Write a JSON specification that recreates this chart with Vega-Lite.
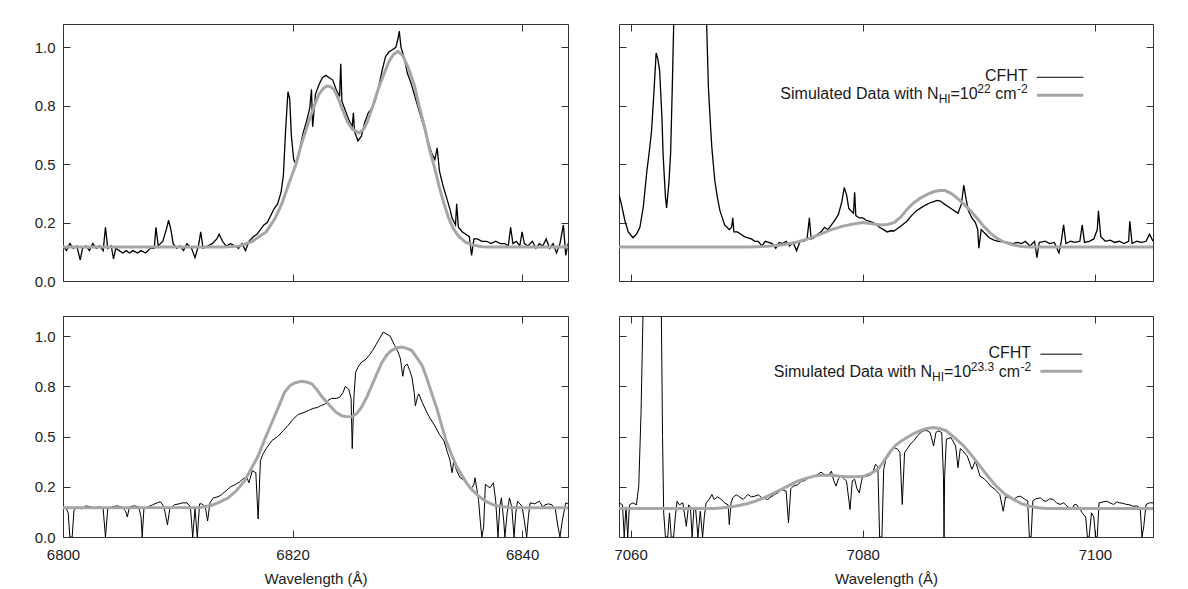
{
  "$schema": "https://vega.github.io/schema/vega-lite/v6.json",
  "background": "white",
  "padding": {"left": 33, "top": 23, "right": 30, "bottom": 5},
  "config": {
    "font": "Liberation Sans",
    "view": {"stroke": "#333333", "strokeWidth": 1},
    "axis": {"domain": false, "grid": false, "tickColor": "#333333", "tickSize": -7, "tickWidth": 1,
      "labelFont": "Liberation Sans", "labelFontSize": 15, "labelColor": "#222222", "labelFlush": false,
      "titleFont": "Liberation Sans", "titleFontSize": 15, "titleFontWeight": "normal", "titleColor": "#222222"},
    "axisLeft": {"labelPadding": 15},
    "axisBottom": {"labelPadding": 17, "titlePadding": 9},
    "text": {"font": "Liberation Sans", "color": "#1a1a1a"}
  },
  "datasets": {
    "tl_cfht": [
      {"wl":6800.0,"flux":0.15},{"wl":6800.3,"flux":0.13},{"wl":6800.6,"flux":0.16},{"wl":6800.9,"flux":0.14},{"wl":6801.2,"flux":0.15},{"wl":6801.5,"flux":0.09},{"wl":6801.7,"flux":0.14},{"wl":6802.0,"flux":0.15},{"wl":6802.3,"flux":0.13},{"wl":6802.6,"flux":0.16},{"wl":6802.9,"flux":0.14},{"wl":6803.2,"flux":0.15},{"wl":6803.5,"flux":0.13},{"wl":6803.7,"flux":0.23},{"wl":6803.9,"flux":0.14},{"wl":6804.2,"flux":0.15},{"wl":6804.4,"flux":0.095},{"wl":6804.6,"flux":0.14},{"wl":6804.9,"flux":0.13},{"wl":6805.2,"flux":0.12},{"wl":6805.5,"flux":0.13},{"wl":6805.8,"flux":0.12},{"wl":6806.1,"flux":0.13},{"wl":6806.5,"flux":0.12},{"wl":6806.8,"flux":0.13},{"wl":6807.2,"flux":0.12},{"wl":6807.6,"flux":0.14},{"wl":6807.95,"flux":0.14},{"wl":6808.1,"flux":0.23},{"wl":6808.3,"flux":0.15},{"wl":6808.7,"flux":0.17},{"wl":6809.0,"flux":0.22},{"wl":6809.2,"flux":0.26},{"wl":6809.4,"flux":0.22},{"wl":6809.6,"flux":0.16},{"wl":6809.9,"flux":0.14},{"wl":6810.2,"flux":0.15},{"wl":6810.5,"flux":0.13},{"wl":6810.8,"flux":0.16},{"wl":6811.2,"flux":0.14},{"wl":6811.5,"flux":0.1},{"wl":6811.8,"flux":0.15},{"wl":6812.0,"flux":0.21},{"wl":6812.2,"flux":0.14},{"wl":6812.6,"flux":0.15},{"wl":6813.0,"flux":0.16},{"wl":6813.4,"flux":0.18},{"wl":6813.6,"flux":0.2},{"wl":6813.9,"flux":0.17},{"wl":6814.2,"flux":0.15},{"wl":6814.6,"flux":0.16},{"wl":6815.0,"flux":0.15},{"wl":6815.3,"flux":0.14},{"wl":6815.6,"flux":0.16},{"wl":6815.9,"flux":0.13},{"wl":6816.2,"flux":0.17},{"wl":6816.6,"flux":0.19},{"wl":6816.9,"flux":0.2},{"wl":6817.2,"flux":0.22},{"wl":6817.5,"flux":0.24},{"wl":6817.8,"flux":0.25},{"wl":6818.1,"flux":0.28},{"wl":6818.4,"flux":0.31},{"wl":6818.7,"flux":0.33},{"wl":6819.0,"flux":0.38},{"wl":6819.2,"flux":0.45},{"wl":6819.4,"flux":0.65},{"wl":6819.6,"flux":0.81},{"wl":6819.75,"flux":0.78},{"wl":6819.9,"flux":0.62},{"wl":6820.1,"flux":0.52},{"wl":6820.3,"flux":0.5},{"wl":6820.6,"flux":0.56},{"wl":6820.9,"flux":0.63},{"wl":6821.2,"flux":0.68},{"wl":6821.5,"flux":0.74},{"wl":6821.65,"flux":0.82},{"wl":6821.75,"flux":0.66},{"wl":6822.0,"flux":0.8},{"wl":6822.3,"flux":0.84},{"wl":6822.6,"flux":0.87},{"wl":6822.9,"flux":0.88},{"wl":6823.2,"flux":0.87},{"wl":6823.5,"flux":0.86},{"wl":6823.8,"flux":0.82},{"wl":6824.1,"flux":0.79},{"wl":6824.2,"flux":0.93},{"wl":6824.3,"flux":0.77},{"wl":6824.6,"flux":0.73},{"wl":6824.9,"flux":0.69},{"wl":6825.2,"flux":0.66},{"wl":6825.3,"flux":0.72},{"wl":6825.4,"flux":0.64},{"wl":6825.7,"flux":0.6},{"wl":6826.0,"flux":0.62},{"wl":6826.3,"flux":0.68},{"wl":6826.6,"flux":0.72},{"wl":6826.9,"flux":0.74},{"wl":6827.2,"flux":0.77},{"wl":6827.5,"flux":0.83},{"wl":6827.8,"flux":0.9},{"wl":6828.1,"flux":0.96},{"wl":6828.4,"flux":0.98},{"wl":6828.7,"flux":0.99},{"wl":6829.0,"flux":1.0},{"wl":6829.2,"flux":1.04},{"wl":6829.3,"flux":1.07},{"wl":6829.45,"flux":1.0},{"wl":6829.7,"flux":0.96},{"wl":6830.0,"flux":0.89},{"wl":6830.3,"flux":0.85},{"wl":6830.6,"flux":0.8},{"wl":6830.9,"flux":0.75},{"wl":6831.2,"flux":0.7},{"wl":6831.5,"flux":0.65},{"wl":6831.8,"flux":0.6},{"wl":6832.1,"flux":0.55},{"wl":6832.4,"flux":0.52},{"wl":6832.6,"flux":0.57},{"wl":6832.8,"flux":0.47},{"wl":6833.1,"flux":0.41},{"wl":6833.4,"flux":0.36},{"wl":6833.7,"flux":0.31},{"wl":6833.9,"flux":0.27},{"wl":6834.2,"flux":0.24},{"wl":6834.3,"flux":0.33},{"wl":6834.45,"flux":0.23},{"wl":6834.8,"flux":0.21},{"wl":6835.1,"flux":0.2},{"wl":6835.4,"flux":0.19},{"wl":6835.6,"flux":0.11},{"wl":6835.8,"flux":0.18},{"wl":6836.1,"flux":0.18},{"wl":6836.5,"flux":0.17},{"wl":6836.9,"flux":0.17},{"wl":6837.3,"flux":0.16},{"wl":6837.7,"flux":0.17},{"wl":6838.1,"flux":0.16},{"wl":6838.5,"flux":0.16},{"wl":6838.8,"flux":0.15},{"wl":6839.0,"flux":0.23},{"wl":6839.2,"flux":0.16},{"wl":6839.5,"flux":0.17},{"wl":6839.8,"flux":0.15},{"wl":6840.0,"flux":0.21},{"wl":6840.2,"flux":0.16},{"wl":6840.5,"flux":0.15},{"wl":6840.9,"flux":0.17},{"wl":6841.2,"flux":0.14},{"wl":6841.5,"flux":0.16},{"wl":6841.8,"flux":0.15},{"wl":6842.1,"flux":0.18},{"wl":6842.4,"flux":0.14},{"wl":6842.7,"flux":0.16},{"wl":6843.0,"flux":0.12},{"wl":6843.3,"flux":0.16},{"wl":6843.6,"flux":0.24},{"wl":6843.8,"flux":0.11},{"wl":6844.0,"flux":0.16}
    ],
    "tl_sim": [
      {"wl":6800,"flux":0.145},{"wl":6814,"flux":0.145},{"wl":6815.4,"flux":0.15},{"wl":6816.5,"flux":0.17},{"wl":6817.7,"flux":0.21},{"wl":6818.5,"flux":0.27},{"wl":6819.1,"flux":0.335},{"wl":6819.7,"flux":0.42},{"wl":6820.3,"flux":0.5},{"wl":6820.8,"flux":0.59},{"wl":6821.4,"flux":0.68},{"wl":6821.9,"flux":0.75},{"wl":6822.3,"flux":0.8},{"wl":6822.7,"flux":0.825},{"wl":6823.0,"flux":0.835},{"wl":6823.3,"flux":0.832},{"wl":6823.6,"flux":0.82},{"wl":6824.0,"flux":0.78},{"wl":6824.3,"flux":0.74},{"wl":6824.8,"flux":0.68},{"wl":6825.2,"flux":0.65},{"wl":6825.8,"flux":0.634},{"wl":6826.2,"flux":0.65},{"wl":6826.5,"flux":0.68},{"wl":6827.0,"flux":0.75},{"wl":6827.5,"flux":0.826},{"wl":6828.0,"flux":0.89},{"wl":6828.4,"flux":0.94},{"wl":6828.8,"flux":0.97},{"wl":6829.2,"flux":0.983},{"wl":6829.6,"flux":0.965},{"wl":6830.1,"flux":0.91},{"wl":6830.6,"flux":0.84},{"wl":6831.0,"flux":0.755},{"wl":6831.5,"flux":0.66},{"wl":6831.9,"flux":0.57},{"wl":6832.4,"flux":0.48},{"wl":6832.8,"flux":0.4},{"wl":6833.2,"flux":0.33},{"wl":6833.6,"flux":0.27},{"wl":6834.0,"flux":0.225},{"wl":6834.5,"flux":0.19},{"wl":6835.1,"flux":0.165},{"wl":6835.7,"flux":0.154},{"wl":6836.5,"flux":0.147},{"wl":6837.1,"flux":0.145},{"wl":6844,"flux":0.145}
    ],
    "tr_cfht": [
      {"wl":7059.0,"flux":0.37},{"wl":7059.2,"flux":0.33},{"wl":7059.5,"flux":0.26},{"wl":7059.8,"flux":0.21},{"wl":7060.2,"flux":0.185},{"wl":7060.5,"flux":0.2},{"wl":7060.8,"flux":0.23},{"wl":7061.1,"flux":0.32},{"wl":7061.4,"flux":0.47},{"wl":7061.6,"flux":0.55},{"wl":7061.8,"flux":0.64},{"wl":7062.0,"flux":0.8},{"wl":7062.2,"flux":0.976},{"wl":7062.35,"flux":0.95},{"wl":7062.5,"flux":0.9},{"wl":7062.7,"flux":0.7},{"wl":7062.8,"flux":0.54},{"wl":7063.0,"flux":0.36},{"wl":7063.1,"flux":0.313},{"wl":7063.3,"flux":0.42},{"wl":7063.45,"flux":0.55},{"wl":7063.6,"flux":0.85},{"wl":7063.8,"flux":1.3},{"wl":7064.3,"flux":2.2},{"wl":7065.0,"flux":2.6},{"wl":7065.8,"flux":2.2},{"wl":7066.3,"flux":1.5},{"wl":7066.55,"flux":1.1},{"wl":7066.7,"flux":0.83},{"wl":7066.9,"flux":0.65},{"wl":7067.0,"flux":0.57},{"wl":7067.25,"flux":0.43},{"wl":7067.5,"flux":0.35},{"wl":7067.7,"flux":0.3},{"wl":7067.9,"flux":0.27},{"wl":7068.1,"flux":0.24},{"wl":7068.3,"flux":0.23},{"wl":7068.5,"flux":0.22},{"wl":7068.7,"flux":0.23},{"wl":7068.8,"flux":0.27},{"wl":7068.9,"flux":0.21},{"wl":7069.2,"flux":0.21},{"wl":7069.5,"flux":0.2},{"wl":7069.8,"flux":0.19},{"wl":7070.1,"flux":0.185},{"wl":7070.4,"flux":0.18},{"wl":7070.7,"flux":0.17},{"wl":7071.0,"flux":0.17},{"wl":7071.3,"flux":0.15},{"wl":7071.6,"flux":0.17},{"wl":7071.9,"flux":0.165},{"wl":7072.2,"flux":0.16},{"wl":7072.5,"flux":0.14},{"wl":7072.8,"flux":0.165},{"wl":7073.1,"flux":0.16},{"wl":7073.4,"flux":0.17},{"wl":7073.7,"flux":0.15},{"wl":7074.0,"flux":0.165},{"wl":7074.3,"flux":0.13},{"wl":7074.6,"flux":0.17},{"wl":7074.9,"flux":0.17},{"wl":7075.2,"flux":0.18},{"wl":7075.4,"flux":0.27},{"wl":7075.55,"flux":0.18},{"wl":7075.8,"flux":0.185},{"wl":7076.1,"flux":0.2},{"wl":7076.4,"flux":0.21},{"wl":7076.7,"flux":0.23},{"wl":7077.0,"flux":0.22},{"wl":7077.3,"flux":0.24},{"wl":7077.6,"flux":0.26},{"wl":7077.9,"flux":0.285},{"wl":7078.2,"flux":0.34},{"wl":7078.4,"flux":0.4},{"wl":7078.6,"flux":0.37},{"wl":7078.8,"flux":0.31},{"wl":7079.0,"flux":0.3},{"wl":7079.2,"flux":0.29},{"wl":7079.3,"flux":0.38},{"wl":7079.4,"flux":0.28},{"wl":7079.7,"flux":0.27},{"wl":7080.0,"flux":0.27},{"wl":7080.3,"flux":0.26},{"wl":7080.6,"flux":0.255},{"wl":7080.9,"flux":0.25},{"wl":7081.2,"flux":0.24},{"wl":7081.5,"flux":0.228},{"wl":7081.8,"flux":0.22},{"wl":7082.1,"flux":0.21},{"wl":7082.4,"flux":0.215},{"wl":7082.7,"flux":0.214},{"wl":7083.0,"flux":0.225},{"wl":7083.4,"flux":0.24},{"wl":7083.8,"flux":0.256},{"wl":7084.2,"flux":0.28},{"wl":7084.6,"flux":0.3},{"wl":7085.0,"flux":0.313},{"wl":7085.4,"flux":0.325},{"wl":7085.8,"flux":0.335},{"wl":7086.1,"flux":0.34},{"wl":7086.4,"flux":0.345},{"wl":7086.7,"flux":0.342},{"wl":7087.0,"flux":0.33},{"wl":7087.3,"flux":0.32},{"wl":7087.6,"flux":0.31},{"wl":7087.9,"flux":0.3},{"wl":7088.2,"flux":0.29},{"wl":7088.5,"flux":0.33},{"wl":7088.7,"flux":0.41},{"wl":7088.9,"flux":0.35},{"wl":7089.1,"flux":0.3},{"wl":7089.4,"flux":0.27},{"wl":7089.7,"flux":0.25},{"wl":7089.9,"flux":0.22},{"wl":7090.0,"flux":0.14},{"wl":7090.2,"flux":0.22},{"wl":7090.6,"flux":0.2},{"wl":7090.9,"flux":0.185},{"wl":7091.3,"flux":0.175},{"wl":7091.7,"flux":0.17},{"wl":7092.1,"flux":0.168},{"wl":7092.5,"flux":0.165},{"wl":7092.9,"flux":0.16},{"wl":7093.3,"flux":0.165},{"wl":7093.7,"flux":0.16},{"wl":7094.0,"flux":0.17},{"wl":7094.4,"flux":0.15},{"wl":7094.8,"flux":0.17},{"wl":7095.0,"flux":0.1},{"wl":7095.2,"flux":0.165},{"wl":7095.7,"flux":0.17},{"wl":7096.1,"flux":0.16},{"wl":7096.5,"flux":0.165},{"wl":7096.9,"flux":0.12},{"wl":7097.1,"flux":0.17},{"wl":7097.3,"flux":0.24},{"wl":7097.5,"flux":0.16},{"wl":7097.9,"flux":0.17},{"wl":7098.3,"flux":0.165},{"wl":7098.7,"flux":0.17},{"wl":7098.9,"flux":0.24},{"wl":7099.1,"flux":0.165},{"wl":7099.5,"flux":0.17},{"wl":7099.9,"flux":0.18},{"wl":7100.2,"flux":0.22},{"wl":7100.3,"flux":0.3},{"wl":7100.5,"flux":0.19},{"wl":7100.9,"flux":0.17},{"wl":7101.3,"flux":0.175},{"wl":7101.7,"flux":0.165},{"wl":7102.1,"flux":0.17},{"wl":7102.5,"flux":0.16},{"wl":7102.9,"flux":0.17},{"wl":7103.0,"flux":0.256},{"wl":7103.2,"flux":0.16},{"wl":7103.6,"flux":0.17},{"wl":7104.0,"flux":0.165},{"wl":7104.4,"flux":0.17},{"wl":7104.7,"flux":0.2},{"wl":7105.0,"flux":0.17}
    ],
    "tr_sim": [
      {"wl":7059,"flux":0.145},{"wl":7070.1,"flux":0.145},{"wl":7071.5,"flux":0.148},{"wl":7073.0,"flux":0.154},{"wl":7074.2,"flux":0.165},{"wl":7075.3,"flux":0.18},{"wl":7076.3,"flux":0.2},{"wl":7077.3,"flux":0.22},{"wl":7078.3,"flux":0.235},{"wl":7079.3,"flux":0.245},{"wl":7080.0,"flux":0.25},{"wl":7080.8,"flux":0.245},{"wl":7081.5,"flux":0.24},{"wl":7082.1,"flux":0.242},{"wl":7082.7,"flux":0.25},{"wl":7083.3,"flux":0.275},{"wl":7083.8,"flux":0.306},{"wl":7084.4,"flux":0.335},{"wl":7085.0,"flux":0.356},{"wl":7085.6,"flux":0.372},{"wl":7086.1,"flux":0.382},{"wl":7086.6,"flux":0.387},{"wl":7087.1,"flux":0.387},{"wl":7087.6,"flux":0.375},{"wl":7088.1,"flux":0.356},{"wl":7088.7,"flux":0.33},{"wl":7089.3,"flux":0.3},{"wl":7089.9,"flux":0.265},{"wl":7090.4,"flux":0.235},{"wl":7091.0,"flux":0.205},{"wl":7091.5,"flux":0.185},{"wl":7092.2,"flux":0.166},{"wl":7093.0,"flux":0.154},{"wl":7093.7,"flux":0.148},{"wl":7094.4,"flux":0.145},{"wl":7105,"flux":0.145}
    ],
    "bl_cfht": [
      {"wl":6800.0,"flux":0.15},{"wl":6800.3,"flux":0.14},{"wl":6800.45,"flux":0.12},{"wl":6800.6,"flux":0.0},{"wl":6800.8,"flux":0.0},{"wl":6800.95,"flux":0.13},{"wl":6801.2,"flux":0.15},{"wl":6801.6,"flux":0.14},{"wl":6802.0,"flux":0.155},{"wl":6802.4,"flux":0.15},{"wl":6802.8,"flux":0.145},{"wl":6803.2,"flux":0.15},{"wl":6803.5,"flux":0.14},{"wl":6803.7,"flux":0.0},{"wl":6803.9,"flux":0.14},{"wl":6804.3,"flux":0.15},{"wl":6804.7,"flux":0.155},{"wl":6805.1,"flux":0.15},{"wl":6805.45,"flux":0.13},{"wl":6805.6,"flux":0.1},{"wl":6805.8,"flux":0.15},{"wl":6806.2,"flux":0.155},{"wl":6806.6,"flux":0.15},{"wl":6806.8,"flux":0.1},{"wl":6806.9,"flux":0.0},{"wl":6807.05,"flux":0.14},{"wl":6807.4,"flux":0.15},{"wl":6807.8,"flux":0.16},{"wl":6808.2,"flux":0.17},{"wl":6808.5,"flux":0.175},{"wl":6808.8,"flux":0.15},{"wl":6809.1,"flux":0.06},{"wl":6809.3,"flux":0.14},{"wl":6809.7,"flux":0.16},{"wl":6810.1,"flux":0.165},{"wl":6810.4,"flux":0.17},{"wl":6810.8,"flux":0.17},{"wl":6811.1,"flux":0.15},{"wl":6811.3,"flux":0.0},{"wl":6811.5,"flux":0.14},{"wl":6811.7,"flux":0.0},{"wl":6811.9,"flux":0.165},{"wl":6812.1,"flux":0.165},{"wl":6812.4,"flux":0.15},{"wl":6812.6,"flux":0.08},{"wl":6812.8,"flux":0.17},{"wl":6813.1,"flux":0.195},{"wl":6813.5,"flux":0.2},{"wl":6813.8,"flux":0.21},{"wl":6814.2,"flux":0.23},{"wl":6814.6,"flux":0.25},{"wl":6815.0,"flux":0.26},{"wl":6815.4,"flux":0.275},{"wl":6815.7,"flux":0.29},{"wl":6816.0,"flux":0.3},{"wl":6816.2,"flux":0.27},{"wl":6816.5,"flux":0.33},{"wl":6816.8,"flux":0.32},{"wl":6817.0,"flux":0.09},{"wl":6817.2,"flux":0.38},{"wl":6817.4,"flux":0.41},{"wl":6817.7,"flux":0.44},{"wl":6818.2,"flux":0.48},{"wl":6818.7,"flux":0.5},{"wl":6819.2,"flux":0.53},{"wl":6819.6,"flux":0.555},{"wl":6820.1,"flux":0.59},{"wl":6820.5,"flux":0.61},{"wl":6821.0,"flux":0.62},{"wl":6821.4,"flux":0.63},{"wl":6821.8,"flux":0.64},{"wl":6822.2,"flux":0.645},{"wl":6822.5,"flux":0.655},{"wl":6822.8,"flux":0.66},{"wl":6823.1,"flux":0.68},{"wl":6823.4,"flux":0.69},{"wl":6823.8,"flux":0.69},{"wl":6824.1,"flux":0.695},{"wl":6824.4,"flux":0.72},{"wl":6824.6,"flux":0.75},{"wl":6824.9,"flux":0.735},{"wl":6825.1,"flux":0.69},{"wl":6825.2,"flux":0.44},{"wl":6825.35,"flux":0.7},{"wl":6825.5,"flux":0.82},{"wl":6825.7,"flux":0.845},{"wl":6826.0,"flux":0.87},{"wl":6826.4,"flux":0.885},{"wl":6826.75,"flux":0.91},{"wl":6827.0,"flux":0.93},{"wl":6827.3,"flux":0.96},{"wl":6827.6,"flux":0.99},{"wl":6827.9,"flux":1.02},{"wl":6828.2,"flux":1.01},{"wl":6828.5,"flux":1.0},{"wl":6828.9,"flux":0.953},{"wl":6829.2,"flux":0.92},{"wl":6829.4,"flux":0.887},{"wl":6829.6,"flux":0.8},{"wl":6829.75,"flux":0.85},{"wl":6830.0,"flux":0.86},{"wl":6830.2,"flux":0.83},{"wl":6830.4,"flux":0.795},{"wl":6830.6,"flux":0.72},{"wl":6830.7,"flux":0.653},{"wl":6830.9,"flux":0.7},{"wl":6831.0,"flux":0.712},{"wl":6831.3,"flux":0.67},{"wl":6831.7,"flux":0.62},{"wl":6832.0,"flux":0.59},{"wl":6832.4,"flux":0.553},{"wl":6832.8,"flux":0.51},{"wl":6833.2,"flux":0.478},{"wl":6833.5,"flux":0.42},{"wl":6833.7,"flux":0.387},{"wl":6833.9,"flux":0.32},{"wl":6834.05,"flux":0.378},{"wl":6834.3,"flux":0.33},{"wl":6834.6,"flux":0.295},{"wl":6835.1,"flux":0.278},{"wl":6835.5,"flux":0.237},{"wl":6835.8,"flux":0.26},{"wl":6835.9,"flux":0.295},{"wl":6836.2,"flux":0.187},{"wl":6836.4,"flux":0.05},{"wl":6836.5,"flux":0.0},{"wl":6836.65,"flux":0.05},{"wl":6836.8,"flux":0.262},{"wl":6837.2,"flux":0.245},{"wl":6837.5,"flux":0.27},{"wl":6837.7,"flux":0.18},{"wl":6837.9,"flux":0.0},{"wl":6838.05,"flux":0.15},{"wl":6838.2,"flux":0.195},{"wl":6838.4,"flux":0.08},{"wl":6838.5,"flux":0.0},{"wl":6838.7,"flux":0.12},{"wl":6838.9,"flux":0.195},{"wl":6839.1,"flux":0.15},{"wl":6839.3,"flux":0.0},{"wl":6839.45,"flux":0.12},{"wl":6839.6,"flux":0.178},{"wl":6840.0,"flux":0.153},{"wl":6840.2,"flux":0.08},{"wl":6840.4,"flux":0.0},{"wl":6840.55,"flux":0.1},{"wl":6840.7,"flux":0.17},{"wl":6841.1,"flux":0.165},{"wl":6841.5,"flux":0.178},{"wl":6841.8,"flux":0.15},{"wl":6842.0,"flux":0.16},{"wl":6842.3,"flux":0.165},{"wl":6842.6,"flux":0.16},{"wl":6842.9,"flux":0.137},{"wl":6843.1,"flux":0.06},{"wl":6843.3,"flux":0.0},{"wl":6843.5,"flux":0.08},{"wl":6843.8,"flux":0.17},{"wl":6844.0,"flux":0.165}
    ],
    "bl_sim": [
      {"wl":6800,"flux":0.145},{"wl":6812.0,"flux":0.147},{"wl":6812.9,"flux":0.157},{"wl":6813.7,"flux":0.175},{"wl":6814.4,"flux":0.195},{"wl":6815.1,"flux":0.23},{"wl":6815.8,"flux":0.278},{"wl":6816.4,"flux":0.34},{"wl":6817.0,"flux":0.403},{"wl":6817.6,"flux":0.49},{"wl":6818.2,"flux":0.57},{"wl":6818.8,"flux":0.65},{"wl":6819.3,"flux":0.72},{"wl":6819.8,"flux":0.755},{"wl":6820.2,"flux":0.767},{"wl":6820.8,"flux":0.775},{"wl":6821.3,"flux":0.77},{"wl":6821.7,"flux":0.762},{"wl":6822.1,"flux":0.735},{"wl":6822.5,"flux":0.703},{"wl":6823.0,"flux":0.67},{"wl":6823.4,"flux":0.645},{"wl":6823.8,"flux":0.62},{"wl":6824.3,"flux":0.603},{"wl":6824.8,"flux":0.598},{"wl":6825.2,"flux":0.6},{"wl":6825.6,"flux":0.615},{"wl":6826.0,"flux":0.645},{"wl":6826.5,"flux":0.7},{"wl":6826.9,"flux":0.753},{"wl":6827.4,"flux":0.82},{"wl":6827.8,"flux":0.87},{"wl":6828.2,"flux":0.905},{"wl":6828.6,"flux":0.928},{"wl":6829.1,"flux":0.942},{"wl":6829.5,"flux":0.945},{"wl":6829.9,"flux":0.94},{"wl":6830.4,"flux":0.928},{"wl":6830.8,"flux":0.895},{"wl":6831.3,"flux":0.853},{"wl":6831.7,"flux":0.79},{"wl":6832.1,"flux":0.72},{"wl":6832.6,"flux":0.635},{"wl":6833.0,"flux":0.553},{"wl":6833.4,"flux":0.475},{"wl":6833.9,"flux":0.403},{"wl":6834.3,"flux":0.35},{"wl":6834.8,"flux":0.303},{"wl":6835.2,"flux":0.265},{"wl":6835.6,"flux":0.237},{"wl":6836.2,"flux":0.205},{"wl":6836.8,"flux":0.178},{"wl":6837.5,"flux":0.16},{"wl":6838.3,"flux":0.15},{"wl":6839.7,"flux":0.145},{"wl":6844,"flux":0.145}
    ],
    "br_cfht": [
      {"wl":7059.0,"flux":0.17},{"wl":7059.3,"flux":0.16},{"wl":7059.45,"flux":0.0},{"wl":7059.6,"flux":0.15},{"wl":7059.75,"flux":0.0},{"wl":7059.9,"flux":0.16},{"wl":7060.2,"flux":0.17},{"wl":7060.5,"flux":0.16},{"wl":7060.7,"flux":0.253},{"wl":7060.9,"flux":0.62},{"wl":7061.1,"flux":1.2},{"wl":7061.4,"flux":2.2},{"wl":7062.0,"flux":3.0},{"wl":7062.5,"flux":2.0},{"wl":7062.75,"flux":0.5},{"wl":7062.85,"flux":0.12},{"wl":7063.0,"flux":0.0},{"wl":7063.2,"flux":0.0},{"wl":7063.35,"flux":0.12},{"wl":7063.5,"flux":0.0},{"wl":7063.7,"flux":0.0},{"wl":7063.85,"flux":0.1},{"wl":7064.0,"flux":0.178},{"wl":7064.2,"flux":0.16},{"wl":7064.5,"flux":0.17},{"wl":7064.8,"flux":0.053},{"wl":7065.0,"flux":0.16},{"wl":7065.15,"flux":0.15},{"wl":7065.3,"flux":0.0},{"wl":7065.45,"flux":0.137},{"wl":7065.6,"flux":0.14},{"wl":7065.8,"flux":0.0},{"wl":7066.0,"flux":0.128},{"wl":7066.2,"flux":0.0},{"wl":7066.35,"flux":0.1},{"wl":7066.5,"flux":0.17},{"wl":7066.8,"flux":0.19},{"wl":7067.0,"flux":0.212},{"wl":7067.2,"flux":0.187},{"wl":7067.5,"flux":0.2},{"wl":7067.8,"flux":0.187},{"wl":7068.1,"flux":0.17},{"wl":7068.4,"flux":0.16},{"wl":7068.5,"flux":0.062},{"wl":7068.65,"flux":0.17},{"wl":7068.8,"flux":0.195},{"wl":7069.1,"flux":0.21},{"wl":7069.3,"flux":0.203},{"wl":7069.7,"flux":0.187},{"wl":7070.1,"flux":0.212},{"wl":7070.4,"flux":0.2},{"wl":7070.7,"flux":0.203},{"wl":7071.0,"flux":0.21},{"wl":7071.3,"flux":0.195},{"wl":7071.6,"flux":0.19},{"wl":7071.8,"flux":0.187},{"wl":7072.1,"flux":0.2},{"wl":7072.4,"flux":0.212},{"wl":7072.7,"flux":0.22},{"wl":7073.0,"flux":0.237},{"wl":7073.4,"flux":0.228},{"wl":7073.6,"flux":0.07},{"wl":7073.8,"flux":0.24},{"wl":7074.0,"flux":0.253},{"wl":7074.4,"flux":0.26},{"wl":7074.7,"flux":0.278},{"wl":7075.0,"flux":0.28},{"wl":7075.3,"flux":0.295},{"wl":7075.6,"flux":0.3},{"wl":7075.8,"flux":0.303},{"wl":7076.1,"flux":0.31},{"wl":7076.4,"flux":0.323},{"wl":7076.7,"flux":0.31},{"wl":7077.0,"flux":0.303},{"wl":7077.3,"flux":0.328},{"wl":7077.5,"flux":0.28},{"wl":7077.7,"flux":0.253},{"wl":7077.9,"flux":0.29},{"wl":7078.1,"flux":0.303},{"wl":7078.4,"flux":0.29},{"wl":7078.6,"flux":0.278},{"wl":7078.9,"flux":0.137},{"wl":7079.1,"flux":0.28},{"wl":7079.3,"flux":0.287},{"wl":7079.5,"flux":0.24},{"wl":7079.7,"flux":0.22},{"wl":7079.9,"flux":0.28},{"wl":7080.0,"flux":0.303},{"wl":7080.4,"flux":0.303},{"wl":7080.7,"flux":0.31},{"wl":7080.9,"flux":0.328},{"wl":7081.1,"flux":0.362},{"wl":7081.3,"flux":0.35},{"wl":7081.45,"flux":0.0},{"wl":7081.65,"flux":0.0},{"wl":7081.8,"flux":0.337},{"wl":7082.0,"flux":0.387},{"wl":7082.2,"flux":0.403},{"wl":7082.5,"flux":0.43},{"wl":7082.7,"flux":0.445},{"wl":7083.0,"flux":0.437},{"wl":7083.2,"flux":0.42},{"wl":7083.4,"flux":0.162},{"wl":7083.6,"flux":0.42},{"wl":7083.8,"flux":0.437},{"wl":7084.1,"flux":0.462},{"wl":7084.4,"flux":0.48},{"wl":7084.7,"flux":0.503},{"wl":7085.0,"flux":0.52},{"wl":7085.2,"flux":0.528},{"wl":7085.5,"flux":0.53},{"wl":7085.8,"flux":0.52},{"wl":7086.1,"flux":0.453},{"wl":7086.3,"flux":0.52},{"wl":7086.5,"flux":0.528},{"wl":7086.8,"flux":0.52},{"wl":7086.95,"flux":0.3},{"wl":7087.0,"flux":0.0},{"wl":7087.05,"flux":0.3},{"wl":7087.2,"flux":0.487},{"wl":7087.6,"flux":0.495},{"wl":7088.0,"flux":0.453},{"wl":7088.2,"flux":0.345},{"wl":7088.4,"flux":0.44},{"wl":7088.6,"flux":0.43},{"wl":7089.0,"flux":0.403},{"wl":7089.4,"flux":0.337},{"wl":7089.7,"flux":0.378},{"wl":7090.1,"flux":0.303},{"wl":7090.5,"flux":0.287},{"wl":7090.8,"flux":0.27},{"wl":7091.0,"flux":0.253},{"wl":7091.4,"flux":0.237},{"wl":7091.8,"flux":0.212},{"wl":7092.1,"flux":0.128},{"wl":7092.3,"flux":0.2},{"wl":7092.6,"flux":0.195},{"wl":7093.0,"flux":0.187},{"wl":7093.3,"flux":0.2},{"wl":7093.6,"flux":0.203},{"wl":7093.9,"flux":0.19},{"wl":7094.2,"flux":0.18},{"wl":7094.35,"flux":0.0},{"wl":7094.5,"flux":0.0},{"wl":7094.65,"flux":0.18},{"wl":7094.9,"flux":0.19},{"wl":7095.3,"flux":0.195},{"wl":7095.6,"flux":0.18},{"wl":7095.8,"flux":0.178},{"wl":7096.1,"flux":0.19},{"wl":7096.4,"flux":0.187},{"wl":7096.7,"flux":0.17},{"wl":7097.0,"flux":0.162},{"wl":7097.3,"flux":0.17},{"wl":7097.6,"flux":0.153},{"wl":7098.0,"flux":0.137},{"wl":7098.2,"flux":0.16},{"wl":7098.4,"flux":0.162},{"wl":7098.7,"flux":0.14},{"wl":7098.9,"flux":0.12},{"wl":7099.2,"flux":0.1},{"wl":7099.35,"flux":0.0},{"wl":7099.5,"flux":0.0},{"wl":7099.7,"flux":0.12},{"wl":7099.9,"flux":0.1},{"wl":7100.05,"flux":0.0},{"wl":7100.2,"flux":0.0},{"wl":7100.35,"flux":0.17},{"wl":7100.7,"flux":0.175},{"wl":7101.0,"flux":0.178},{"wl":7101.3,"flux":0.17},{"wl":7101.6,"flux":0.162},{"wl":7101.9,"flux":0.175},{"wl":7102.1,"flux":0.17},{"wl":7102.4,"flux":0.168},{"wl":7102.7,"flux":0.162},{"wl":7103.0,"flux":0.16},{"wl":7103.3,"flux":0.153},{"wl":7103.6,"flux":0.155},{"wl":7103.9,"flux":0.145},{"wl":7104.05,"flux":0.0},{"wl":7104.2,"flux":0.05},{"wl":7104.4,"flux":0.162},{"wl":7104.7,"flux":0.17},{"wl":7105.0,"flux":0.17}
    ],
    "br_sim": [
      {"wl":7059,"flux":0.142},{"wl":7067.2,"flux":0.142},{"wl":7068.0,"flux":0.146},{"wl":7068.7,"flux":0.15},{"wl":7069.4,"flux":0.158},{"wl":7070.1,"flux":0.167},{"wl":7070.8,"flux":0.18},{"wl":7071.5,"flux":0.195},{"wl":7072.2,"flux":0.215},{"wl":7073.0,"flux":0.237},{"wl":7073.7,"flux":0.258},{"wl":7074.4,"flux":0.278},{"wl":7075.1,"flux":0.292},{"wl":7075.8,"flux":0.303},{"wl":7076.5,"flux":0.307},{"wl":7077.3,"flux":0.307},{"wl":7078.0,"flux":0.303},{"wl":7078.7,"flux":0.3},{"wl":7079.4,"flux":0.3},{"wl":7080.1,"flux":0.303},{"wl":7080.7,"flux":0.317},{"wl":7081.3,"flux":0.337},{"wl":7081.8,"flux":0.375},{"wl":7082.3,"flux":0.42},{"wl":7082.8,"flux":0.455},{"wl":7083.3,"flux":0.477},{"wl":7083.8,"flux":0.495},{"wl":7084.4,"flux":0.515},{"wl":7085.0,"flux":0.53},{"wl":7085.5,"flux":0.54},{"wl":7086.1,"flux":0.545},{"wl":7086.6,"flux":0.54},{"wl":7087.2,"flux":0.528},{"wl":7087.9,"flux":0.495},{"wl":7088.7,"flux":0.453},{"wl":7089.4,"flux":0.405},{"wl":7090.1,"flux":0.353},{"wl":7090.8,"flux":0.3},{"wl":7091.5,"flux":0.253},{"wl":7092.2,"flux":0.215},{"wl":7093.0,"flux":0.187},{"wl":7093.7,"flux":0.165},{"wl":7094.4,"flux":0.153},{"wl":7095.1,"flux":0.146},{"wl":7095.8,"flux":0.142},{"wl":7105,"flux":0.142}
    ],
    "one": [{}]
  },
  "concat": [
    {
      "width": 505, "height": 257,
      "layer": [
        {"data": {"name": "tl_cfht"}, "mark": {"type": "line", "color": "black", "strokeWidth": 1.3, "clip": true},
         "encoding": {
           "x": {"field": "wl", "type": "quantitative", "scale": {"domain": [6800, 6844], "nice": false, "zero": false}, "axis": {"orient": "bottom", "values": [6800, 6820, 6840], "labels": false, "title": null}},
           "y": {"field": "flux", "type": "quantitative", "scale": {"domain": [0, 1.1], "nice": false, "zero": false}, "axis": {"orient": "left", "values": [0, 0.25, 0.5, 0.75, 1], "labelExpr": "datum.value == 0.25 ? '0.2' : format(datum.value, '.1f')", "title": null}}}},
        {"data": {"name": "tl_sim"}, "mark": {"type": "line", "color": "#a6a6a6", "strokeWidth": 3, "clip": true},
         "encoding": {
           "x": {"field": "wl", "type": "quantitative", "scale": {"domain": [6800, 6844], "nice": false, "zero": false}, "axis": {"orient": "top", "values": [6800, 6820, 6840], "labels": false, "title": null}},
           "y": {"field": "flux", "type": "quantitative", "scale": {"domain": [0, 1.1], "nice": false, "zero": false}, "axis": {"orient": "right", "values": [0, 0.25, 0.5, 0.75, 1], "labels": false, "title": null}}}}
      ],
      "resolve": {"axis": {"x": "independent", "y": "independent"}}
    },
    {
      "width": 534, "height": 257,
      "layer": [
        {"data": {"name": "tr_cfht"}, "mark": {"type": "line", "color": "black", "strokeWidth": 1.3, "clip": true},
         "encoding": {
           "x": {"field": "wl", "type": "quantitative", "scale": {"domain": [7059, 7105], "nice": false, "zero": false}, "axis": {"orient": "bottom", "values": [7060, 7080, 7100], "labels": false, "title": null}},
           "y": {"field": "flux", "type": "quantitative", "scale": {"domain": [0, 1.1], "nice": false, "zero": false}, "axis": {"orient": "left", "values": [0, 0.25, 0.5, 0.75, 1], "labels": false, "title": null}}}},
        {"data": {"name": "tr_sim"}, "mark": {"type": "line", "color": "#a6a6a6", "strokeWidth": 3, "clip": true},
         "encoding": {
           "x": {"field": "wl", "type": "quantitative", "scale": {"domain": [7059, 7105], "nice": false, "zero": false}, "axis": {"orient": "top", "values": [7060, 7080, 7100], "labels": false, "title": null}},
           "y": {"field": "flux", "type": "quantitative", "scale": {"domain": [0, 1.1], "nice": false, "zero": false}, "axis": {"orient": "right", "values": [0, 0.25, 0.5, 0.75, 1], "labels": false, "title": null}}}},
        {"data": {"name": "one"}, "mark": {"type": "rule", "color": "black", "strokeWidth": 1},
         "encoding": {"x": {"datum": 7095.0, "scale": {"domain": [7059, 7105], "nice": false, "zero": false}, "axis": null}, "x2": {"datum": 7099.0}, "y": {"datum": 0.872, "scale": {"domain": [0, 1.1], "nice": false, "zero": false}, "axis": null}}},
        {"data": {"name": "one"}, "mark": {"type": "rule", "color": "#a6a6a6", "strokeWidth": 3},
         "encoding": {"x": {"datum": 7095.0, "scale": {"domain": [7059, 7105], "nice": false, "zero": false}, "axis": null}, "x2": {"datum": 7099.0}, "y": {"datum": 0.795, "scale": {"domain": [0, 1.1], "nice": false, "zero": false}, "axis": null}}},
        {"data": {"name": "one"}, "mark": {"type": "text", "align": "right", "baseline": "alphabetic", "fontSize": 16},
         "encoding": {"x": {"datum": 7094.2, "scale": {"domain": [7059, 7105], "nice": false, "zero": false}, "axis": null}, "y": {"datum": 0.856, "scale": {"domain": [0, 1.1], "nice": false, "zero": false}, "axis": null}, "text": {"value": "CFHT"}}},
        {"data": {"name": "one"}, "mark": {"type": "text", "align": "right", "baseline": "alphabetic", "fontSize": 16, "dx": -89},
         "encoding": {"x": {"datum": 7094.2, "scale": {"domain": [7059, 7105], "nice": false, "zero": false}, "axis": null}, "y": {"datum": 0.778, "scale": {"domain": [0, 1.1], "nice": false, "zero": false}, "axis": null}, "text": {"value": "Simulated Data with N"}}},
        {"data": {"name": "one"}, "mark": {"type": "text", "align": "right", "baseline": "alphabetic", "fontSize": 12, "dx": -77, "dy": 4},
         "encoding": {"x": {"datum": 7094.2, "scale": {"domain": [7059, 7105], "nice": false, "zero": false}, "axis": null}, "y": {"datum": 0.778, "scale": {"domain": [0, 1.1], "nice": false, "zero": false}, "axis": null}, "text": {"value": "HI"}}},
        {"data": {"name": "one"}, "mark": {"type": "text", "align": "right", "baseline": "alphabetic", "fontSize": 16, "dx": -50},
         "encoding": {"x": {"datum": 7094.2, "scale": {"domain": [7059, 7105], "nice": false, "zero": false}, "axis": null}, "y": {"datum": 0.778, "scale": {"domain": [0, 1.1], "nice": false, "zero": false}, "axis": null}, "text": {"value": "=10"}}},
        {"data": {"name": "one"}, "mark": {"type": "text", "align": "right", "baseline": "alphabetic", "fontSize": 12, "dx": -37, "dy": -6},
         "encoding": {"x": {"datum": 7094.2, "scale": {"domain": [7059, 7105], "nice": false, "zero": false}, "axis": null}, "y": {"datum": 0.778, "scale": {"domain": [0, 1.1], "nice": false, "zero": false}, "axis": null}, "text": {"value": "22"}}},
        {"data": {"name": "one"}, "mark": {"type": "text", "align": "right", "baseline": "alphabetic", "fontSize": 16, "dx": -11},
         "encoding": {"x": {"datum": 7094.2, "scale": {"domain": [7059, 7105], "nice": false, "zero": false}, "axis": null}, "y": {"datum": 0.778, "scale": {"domain": [0, 1.1], "nice": false, "zero": false}, "axis": null}, "text": {"value": "cm"}}},
        {"data": {"name": "one"}, "mark": {"type": "text", "align": "right", "baseline": "alphabetic", "fontSize": 12, "dx": 0, "dy": -6},
         "encoding": {"x": {"datum": 7094.2, "scale": {"domain": [7059, 7105], "nice": false, "zero": false}, "axis": null}, "y": {"datum": 0.778, "scale": {"domain": [0, 1.1], "nice": false, "zero": false}, "axis": null}, "text": {"value": "-2"}}}
      ],
      "resolve": {"axis": {"x": "independent", "y": "independent"}}
    },
    {
      "width": 505, "height": 221,
      "layer": [
        {"data": {"name": "bl_cfht"}, "mark": {"type": "line", "color": "black", "strokeWidth": 1, "clip": true},
         "encoding": {
           "x": {"field": "wl", "type": "quantitative", "scale": {"domain": [6800, 6844], "nice": false, "zero": false}, "axis": {"orient": "bottom", "values": [6800, 6820, 6840], "format": "d", "title": "Wavelength (Å)"}},
           "y": {"field": "flux", "type": "quantitative", "scale": {"domain": [0, 1.1], "nice": false, "zero": false}, "axis": {"orient": "left", "values": [0, 0.25, 0.5, 0.75, 1], "labelExpr": "datum.value == 0.25 ? '0.2' : format(datum.value, '.1f')", "title": null}}}},
        {"data": {"name": "bl_sim"}, "mark": {"type": "line", "color": "#a6a6a6", "strokeWidth": 3, "clip": true},
         "encoding": {
           "x": {"field": "wl", "type": "quantitative", "scale": {"domain": [6800, 6844], "nice": false, "zero": false}, "axis": {"orient": "top", "values": [6800, 6820, 6840], "labels": false, "title": null}},
           "y": {"field": "flux", "type": "quantitative", "scale": {"domain": [0, 1.1], "nice": false, "zero": false}, "axis": {"orient": "right", "values": [0, 0.25, 0.5, 0.75, 1], "labels": false, "title": null}}}}
      ],
      "resolve": {"axis": {"x": "independent", "y": "independent"}}
    },
    {
      "width": 534, "height": 221,
      "layer": [
        {"data": {"name": "br_cfht"}, "mark": {"type": "line", "color": "black", "strokeWidth": 1, "clip": true},
         "encoding": {
           "x": {"field": "wl", "type": "quantitative", "scale": {"domain": [7059, 7105], "nice": false, "zero": false}, "axis": {"orient": "bottom", "values": [7060, 7080, 7100], "format": "d", "title": "Wavelength (Å)"}},
           "y": {"field": "flux", "type": "quantitative", "scale": {"domain": [0, 1.1], "nice": false, "zero": false}, "axis": {"orient": "left", "values": [0, 0.25, 0.5, 0.75, 1], "labels": false, "title": null}}}},
        {"data": {"name": "br_sim"}, "mark": {"type": "line", "color": "#a6a6a6", "strokeWidth": 3, "clip": true},
         "encoding": {
           "x": {"field": "wl", "type": "quantitative", "scale": {"domain": [7059, 7105], "nice": false, "zero": false}, "axis": {"orient": "top", "values": [7060, 7080, 7100], "labels": false, "title": null}},
           "y": {"field": "flux", "type": "quantitative", "scale": {"domain": [0, 1.1], "nice": false, "zero": false}, "axis": {"orient": "right", "values": [0, 0.25, 0.5, 0.75, 1], "labels": false, "title": null}}}},
        {"data": {"name": "one"}, "mark": {"type": "rule", "color": "black", "strokeWidth": 1},
         "encoding": {"x": {"datum": 7095.3, "scale": {"domain": [7059, 7105], "nice": false, "zero": false}, "axis": null}, "x2": {"datum": 7098.9}, "y": {"datum": 0.91, "scale": {"domain": [0, 1.1], "nice": false, "zero": false}, "axis": null}}},
        {"data": {"name": "one"}, "mark": {"type": "rule", "color": "#a6a6a6", "strokeWidth": 3},
         "encoding": {"x": {"datum": 7095.3, "scale": {"domain": [7059, 7105], "nice": false, "zero": false}, "axis": null}, "x2": {"datum": 7098.9}, "y": {"datum": 0.825, "scale": {"domain": [0, 1.1], "nice": false, "zero": false}, "axis": null}}},
        {"data": {"name": "one"}, "mark": {"type": "text", "align": "right", "baseline": "alphabetic", "fontSize": 16},
         "encoding": {"x": {"datum": 7094.5, "scale": {"domain": [7059, 7105], "nice": false, "zero": false}, "axis": null}, "y": {"datum": 0.891, "scale": {"domain": [0, 1.1], "nice": false, "zero": false}, "axis": null}, "text": {"value": "CFHT"}}},
        {"data": {"name": "one"}, "mark": {"type": "text", "align": "right", "baseline": "alphabetic", "fontSize": 16, "dx": -99},
         "encoding": {"x": {"datum": 7094.5, "scale": {"domain": [7059, 7105], "nice": false, "zero": false}, "axis": null}, "y": {"datum": 0.795, "scale": {"domain": [0, 1.1], "nice": false, "zero": false}, "axis": null}, "text": {"value": "Simulated Data with N"}}},
        {"data": {"name": "one"}, "mark": {"type": "text", "align": "right", "baseline": "alphabetic", "fontSize": 12, "dx": -87, "dy": 4},
         "encoding": {"x": {"datum": 7094.5, "scale": {"domain": [7059, 7105], "nice": false, "zero": false}, "axis": null}, "y": {"datum": 0.795, "scale": {"domain": [0, 1.1], "nice": false, "zero": false}, "axis": null}, "text": {"value": "HI"}}},
        {"data": {"name": "one"}, "mark": {"type": "text", "align": "right", "baseline": "alphabetic", "fontSize": 16, "dx": -60},
         "encoding": {"x": {"datum": 7094.5, "scale": {"domain": [7059, 7105], "nice": false, "zero": false}, "axis": null}, "y": {"datum": 0.795, "scale": {"domain": [0, 1.1], "nice": false, "zero": false}, "axis": null}, "text": {"value": "=10"}}},
        {"data": {"name": "one"}, "mark": {"type": "text", "align": "right", "baseline": "alphabetic", "fontSize": 12, "dx": -37, "dy": -6},
         "encoding": {"x": {"datum": 7094.5, "scale": {"domain": [7059, 7105], "nice": false, "zero": false}, "axis": null}, "y": {"datum": 0.795, "scale": {"domain": [0, 1.1], "nice": false, "zero": false}, "axis": null}, "text": {"value": "23.3"}}},
        {"data": {"name": "one"}, "mark": {"type": "text", "align": "right", "baseline": "alphabetic", "fontSize": 16, "dx": -11},
         "encoding": {"x": {"datum": 7094.5, "scale": {"domain": [7059, 7105], "nice": false, "zero": false}, "axis": null}, "y": {"datum": 0.795, "scale": {"domain": [0, 1.1], "nice": false, "zero": false}, "axis": null}, "text": {"value": "cm"}}},
        {"data": {"name": "one"}, "mark": {"type": "text", "align": "right", "baseline": "alphabetic", "fontSize": 12, "dx": 0, "dy": -6},
         "encoding": {"x": {"datum": 7094.5, "scale": {"domain": [7059, 7105], "nice": false, "zero": false}, "axis": null}, "y": {"datum": 0.795, "scale": {"domain": [0, 1.1], "nice": false, "zero": false}, "axis": null}, "text": {"value": "-2"}}}
      ],
      "resolve": {"axis": {"x": "independent", "y": "independent"}}
    }
  ],
  "columns": 2,
  "align": "each",
  "spacing": {"row": 35, "column": 51},
  "bounds": "flush"
}
